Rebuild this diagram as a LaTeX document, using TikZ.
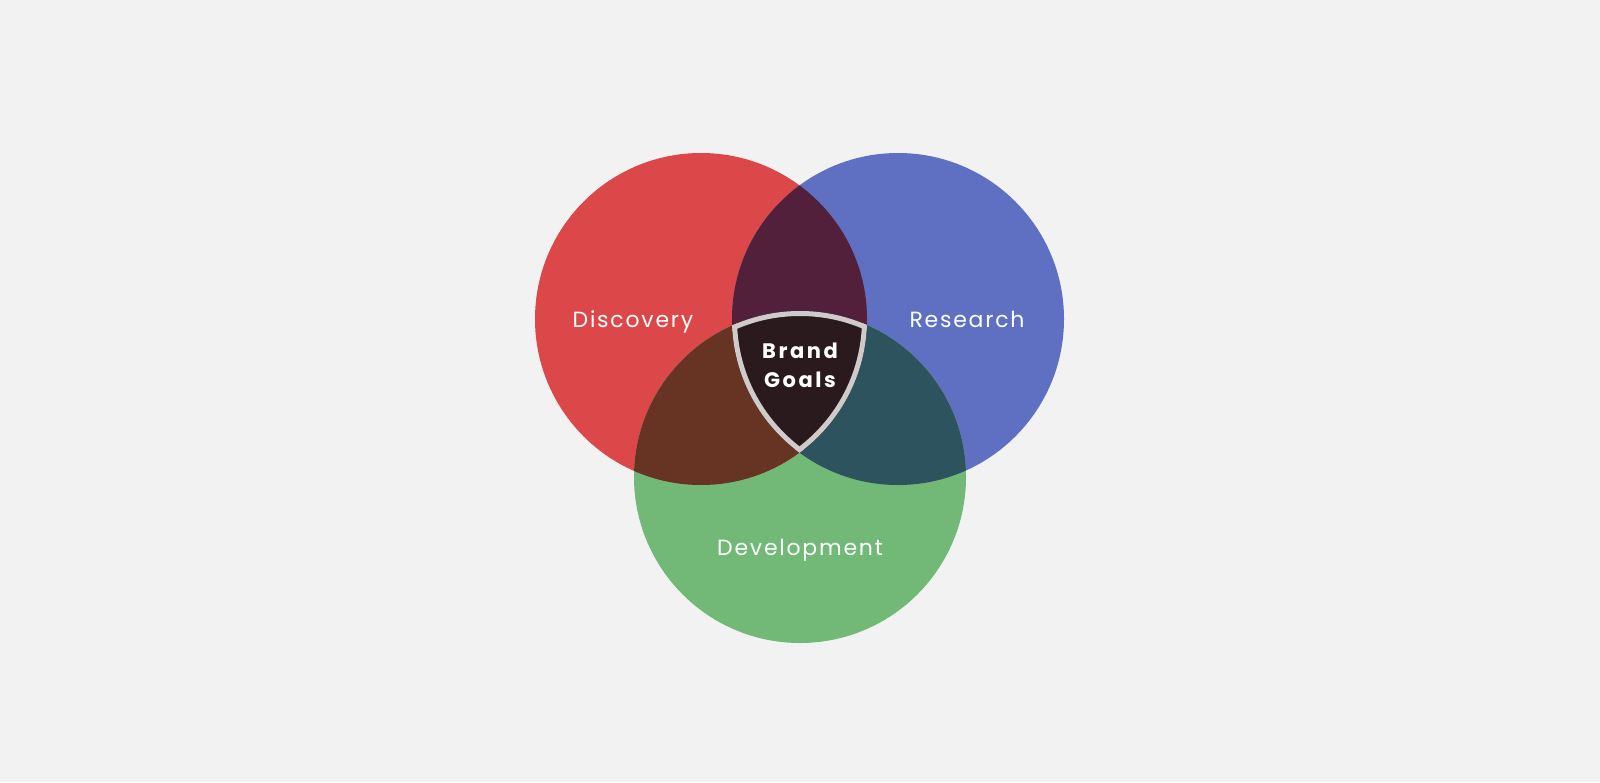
\documentclass[tikz,border=0pt]{standalone}
\usepackage{fontspec}
\newfontfamily\popls[LetterSpace=8]{Poppins}
\newfontfamily\popbs[LetterSpace=12]{Poppins}
\definecolor{bg}{HTML}{F2F2F2}
\definecolor{cred}{HTML}{DC4749}
\definecolor{cblue}{HTML}{5F70C2}
\definecolor{cgreen}{HTML}{72B876}
\definecolor{crb}{HTML}{53203B}
\definecolor{crg}{HTML}{673322}
\definecolor{cbg}{HTML}{2C535E}
\definecolor{ccen}{HTML}{2A191D}
\definecolor{cbord}{HTML}{CFCBCB}
\tikzset{
  lbl/.style={text=white, font=\popls\fontsize{22}{26}\selectfont, inner sep=0pt, anchor=base},
  core/.style={text=white, font=\popbs\bfseries\fontsize{21}{29.5}\selectfont, align=center, inner sep=0pt, anchor=base},
}
\begin{document}
\begin{tikzpicture}[x=1pt,y=-1pt]
\fill[bg] (0,0) rectangle (1600,782);
\useasboundingbox (0,0) rectangle (1600,782);
\coordinate (R) at (701,319);
\coordinate (B) at (898,319);
\coordinate (G) at (800,477);
\def\rr{166pt}
\fill[cred] (R) circle (\rr);
\fill[cblue] (B) circle (\rr);
\fill[cgreen] (G) circle (\rr);
\begin{scope}
  \clip (R) circle (\rr);
  \fill[crb] (B) circle (\rr);
  \fill[crg] (G) circle (\rr);
\end{scope}
\begin{scope}
  \clip (B) circle (\rr);
  \fill[cbg] (G) circle (\rr);
\end{scope}
\begin{scope}
  \clip (R) circle (\rr);
  \clip (B) circle (\rr);
  \clip (G) circle (\rr);
  \fill[ccen] (G) circle (\rr);
  \draw[cbord, line width=10pt] (R) circle (\rr);
  \draw[cbord, line width=10pt] (B) circle (\rr);
  \draw[cbord, line width=10pt] (G) circle (\rr);
\end{scope}
\node[lbl] (disc) at (633,327) {Discovery};
\node[lbl] (res) at (967,327) {Research};
\node[lbl] (dev) at (800,555) {Development};
\node[core] (brand) at (800,358) {Brand};
\node[core] (goals) at (800,387.5) {Goals};
\end{tikzpicture}
\end{document}
